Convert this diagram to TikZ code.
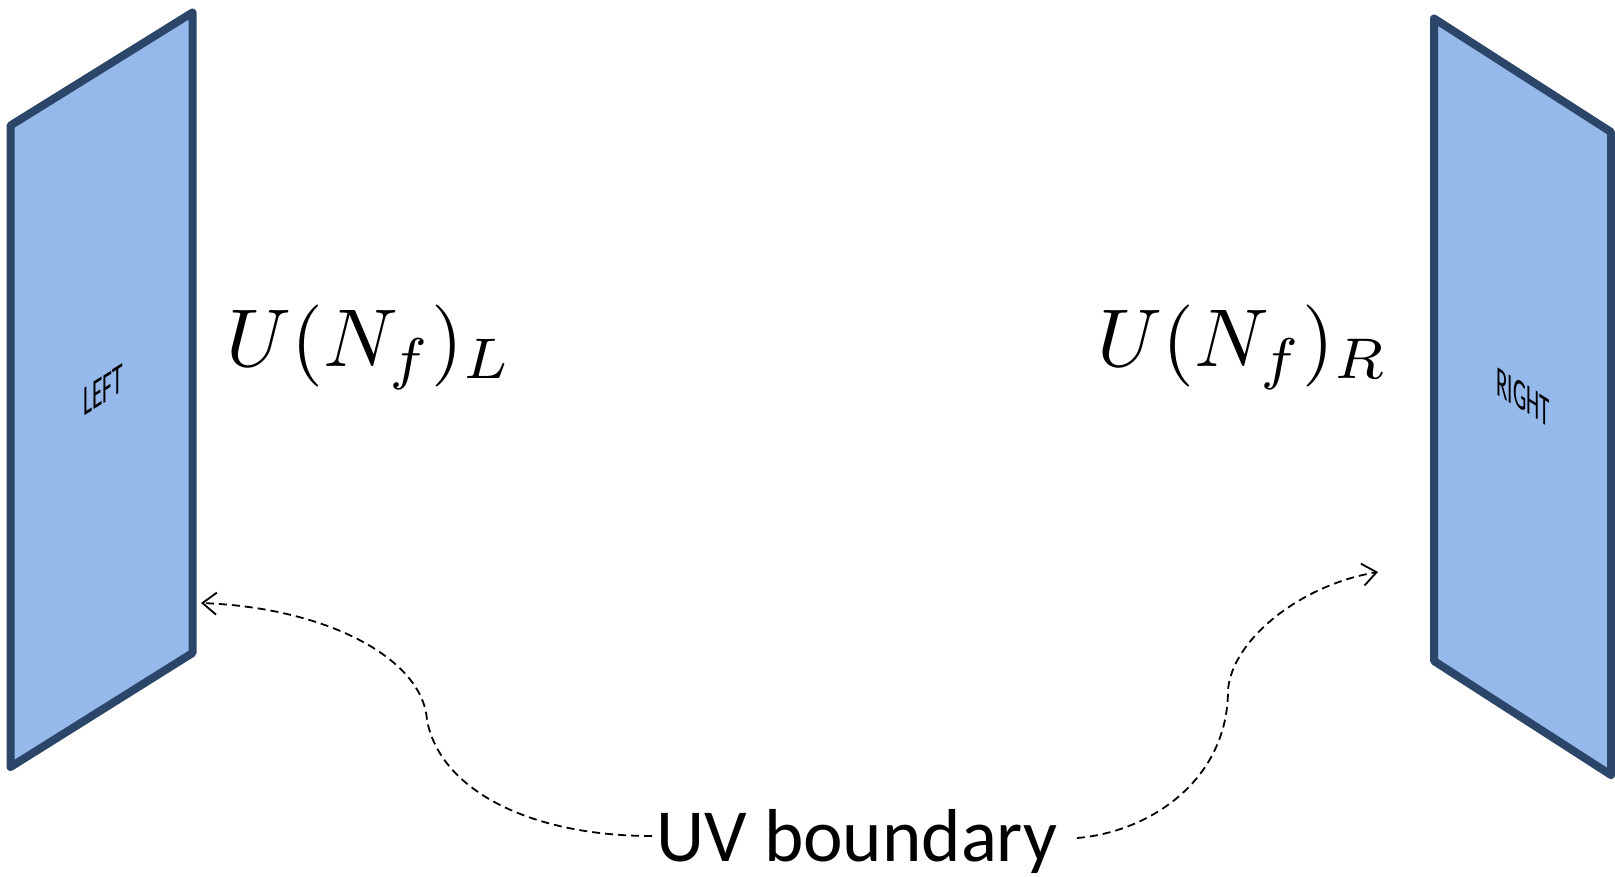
\documentclass[tikz,border=0pt]{standalone}
\usepackage{fontspec}
\newfontfamily\calfont{Carlito}
\usetikzlibrary{arrows.meta}
\definecolor{panelfill}{HTML}{95B9EB}
\definecolor{paneledge}{HTML}{2B4669}
\tikzset{
  panel/.style={draw=paneledge, fill=panelfill, line width=8pt, line join=round},
  uvlink/.style={draw=black, line width=1.8pt, dash pattern=on 8pt off 5pt,
    -{Straight Barb[length=14pt,width=22pt,line width=1.8pt]}},
  mathlabel/.style={inner sep=0pt, anchor=base west, scale=8.2},
  paneltext/.style={inner sep=0pt, font=\calfont\fontsize{43}{50}\selectfont}
}
\begin{document}
\begin{tikzpicture}[x=1pt,y=-1pt]
\useasboundingbox (0,0) rectangle (1615,876);
% panels
\draw[panel] (10.5,125.5) -- (192.5,12.5) -- (192.5,653) -- (10.5,767) -- cycle;
\draw[panel] (1434,18.5) -- (1611,132) -- (1611,775) -- (1434,661) -- cycle;
\begin{scope}[shift={(103,390)}]
\node[paneltext, yslant=0.62, xscale=0.5] (lefttxt) at (0,0) {LEFT};
\end{scope}
\begin{scope}[shift={(1523,397)}]
\node[paneltext, yslant=-0.62, xscale=0.49] (righttxt) at (0,0) {RIGHT};
\end{scope}
% labels
\node[mathlabel] (uL) at (225,366) {$U(N_f)_L$};
\node[mathlabel] (uR) at (1096,366) {$U(N_f)_R$};
\node[inner sep=0pt, anchor=base, font=\calfont\fontsize{75}{90}\selectfont] (uv) at (857,861) {UV boundary};
% connectors
\coordinate (cL) at (652,836);
\coordinate (cR) at (1077,838);
\coordinate (tL) at (201,603);
\coordinate (tR) at (1378,572);
\draw[uvlink] (cL) .. controls (530,836) and (440,790) .. (427,720)
  .. controls (423,660) and (330,608) .. (tL);
\draw[uvlink] (cR) .. controls (1150,832) and (1228,780) .. (1228,690)
  .. controls (1232,640) and (1300,585) .. (tR);
\end{tikzpicture}
\end{document}
